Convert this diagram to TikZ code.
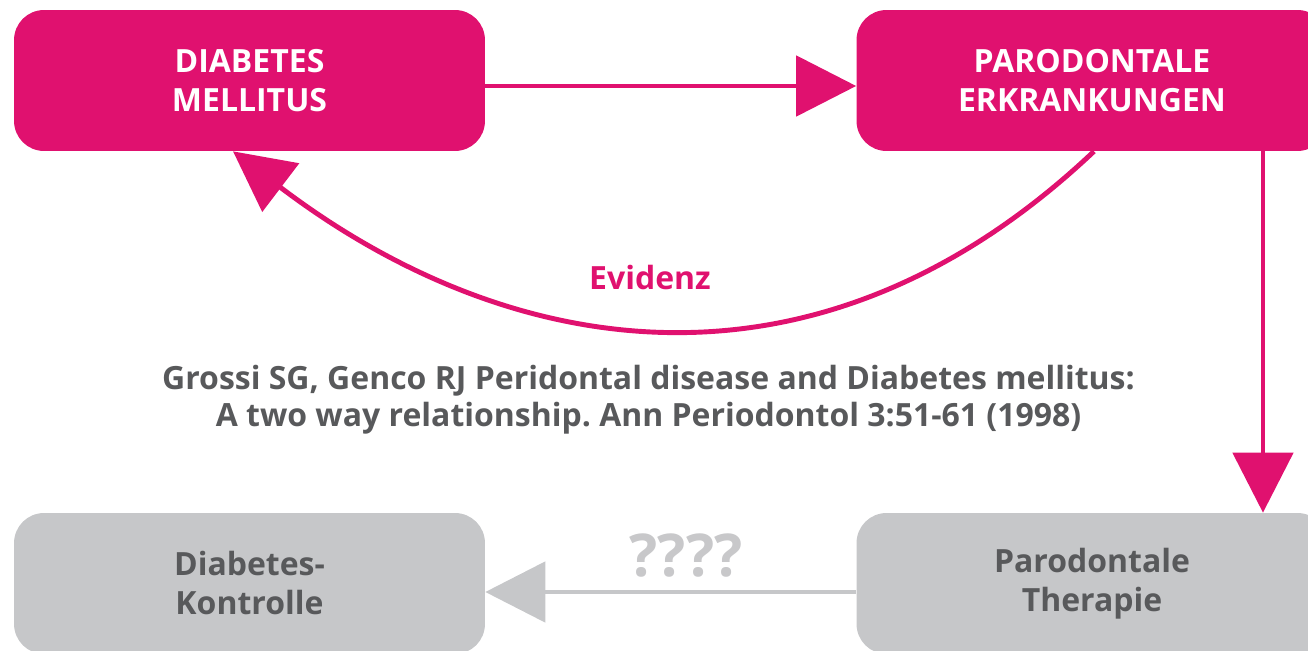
\documentclass[tikz,border=0pt]{standalone}
\usepackage{fontspec}
\setmainfont{Open Sans}
\usepackage{xcolor}
\usepackage{tikz}
\usetikzlibrary{positioning, arrows.meta}

\definecolor{dmpink}{HTML}{E0116F}
\definecolor{boxgray}{HTML}{C6C7C9}
\definecolor{txtgray}{HTML}{58595B}
\definecolor{qgray}{HTML}{C8C8CA}
\frenchspacing

\begin{document}
\begin{tikzpicture}[x=0.02cm,y=-0.02cm,
    box/.style={rectangle,rounded corners=0.6cm,minimum width=9.42cm,minimum height=2.82cm,
                align=center,font=\fontsize{18.2}{22.2}\selectfont\bfseries,inner sep=0pt},
    pinkbox/.style={box,fill=dmpink,text=white},
    graybox/.style={box,fill=boxgray,text=txtgray},
    link/.style={line width=2.8pt,-{Triangle[length=1.2cm,width=1.2cm]}}]
    \useasboundingbox (0,0) rectangle (1308,651);

    \node[pinkbox] (dm) at (249.5,80.5) {DIABETES\\MELLITUS};
    \node[pinkbox] (pe) at (1092,80.5) {PARODONTALE\\ERKRANKUNGEN};
    \node[graybox] (dk) at (249.5,583.5) {Diabetes-\\Kontrolle};
    \node[graybox] (th) at (1092,583.5) {Parodontale\\Therapie};

    \draw[link,dmpink] ([yshift=-0.11cm]dm.east) -- ([yshift=-0.11cm]pe.west);
    \draw[link,dmpink] ([xshift=3.42cm]pe.south) -- ([xshift=3.42cm]th.north);
    \draw[link,dmpink] ([xshift=0.04cm]pe.south) .. controls (814,416) and (505,358) .. ([xshift=-0.33cm]dm.south);
    \draw[link,boxgray] ([yshift=-0.17cm]th.west) -- ([yshift=-0.17cm]dk.east);

    \node[font=\fontsize{18.2}{22.2}\selectfont\bfseries,text=dmpink] (ev) at (650,278) {Evidenz};
    \node[font=\fontsize{33.6}{40}\selectfont\bfseries,text=qgray] (qq) at (686,556) {????};
    \node[align=center,font=\fontsize{18.2}{21}\selectfont\bfseries,text=txtgray] (ref) at (648.5,400)
        {Grossi SG, Genco RJ Peridontal disease and Diabetes mellitus:\\
         A two way relationship. Ann Periodontol 3:51-61 (1998)};
\end{tikzpicture}
\end{document}
